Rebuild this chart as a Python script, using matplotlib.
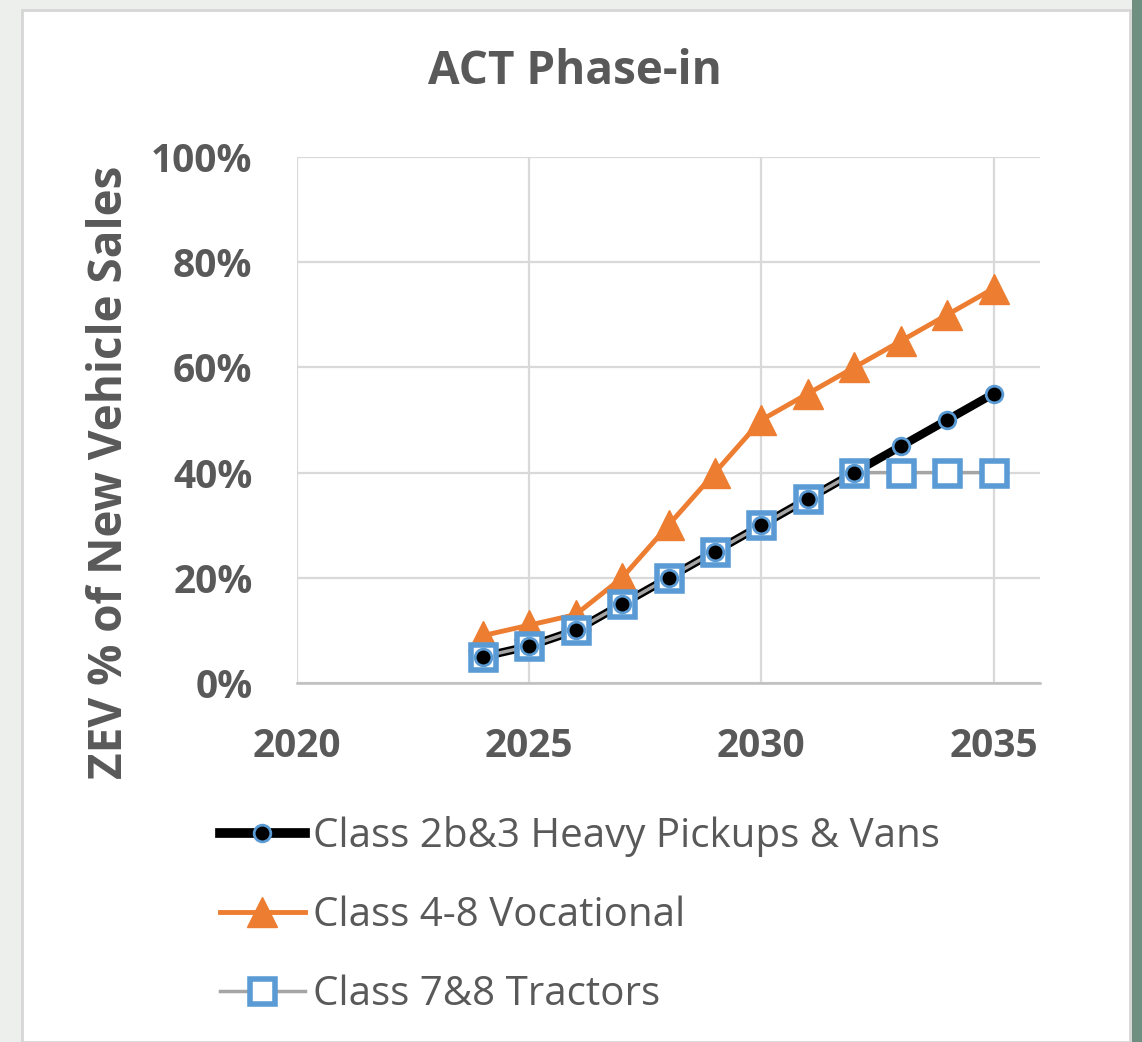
import matplotlib.pyplot as plt
from matplotlib.patches import Rectangle

years = [2024, 2025, 2026, 2027, 2028, 2029, 2030, 2031, 2032, 2033, 2034, 2035]
pickups_vans = [5, 7, 10, 15, 20, 25, 30, 35, 40, 45, 50, 55]
vocational = [9, 11, 13, 20, 30, 40, 50, 55, 60, 65, 70, 75]
tractors = [5, 7, 10, 15, 20, 25, 30, 35, 40, 40, 40, 40]

x_ticks = [2020, 2025, 2030, 2035]
y_ticks = [0, 20, 40, 60, 80, 100]
y_labels = ['0%', '20%', '40%', '60%', '80%', '100%']

txt = '#595959'
blue = '#5B9BD5'
orange = '#ED7D31'
gray = '#A5A5A5'

plt.rcParams['font.family'] = ['Open Sans', 'DejaVu Sans']

fig = plt.figure(figsize=(11.42, 10.42), dpi=100)
fig.patch.set_facecolor('#ECEFEC')
# white card + green strip on the right
fig.patches.append(Rectangle((1132/1142, 0), 10/1142, 1, transform=fig.transFigure,
                             facecolor='#6F8F80', edgecolor='none', zorder=-2))
fig.patches.append(Rectangle((22/1142, 0), 1108/1142, 1 - 10/1042, transform=fig.transFigure,
                             facecolor='white', edgecolor='#D6D6D6', lw=2, zorder=-1))

ax = fig.add_axes([297/1142, 1 - 683/1042, 743/1142, 526/1042])
ax.set_facecolor('none')

ax.plot(years, vocational, color=orange, lw=3.5, marker='^', ms=22,
        mfc=orange, mec=orange, zorder=2)
ax.plot(years, pickups_vans, color='black', lw=6, zorder=3)
ax.plot(years, tractors, color=gray, lw=2.5, zorder=4)
ax.plot(years, tractors, ls='none', marker='s', ms=18, mfc='white', mec=blue,
        mew=4, zorder=5)
ax.plot(years, pickups_vans, ls='none', marker='o', ms=12, mfc='black', mec=blue,
        mew=2, zorder=6)

ax.set_xlim(2020, 2036)
ax.set_ylim(0, 100)
ax.set_xticks(x_ticks)
ax.set_yticks(y_ticks)
ax.set_yticklabels(y_labels)
ax.grid(True, color='#D9D9D9', lw=1.6)
ax.set_axisbelow(True)
for s in ['top', 'right', 'left']:
    ax.spines[s].set_visible(False)
ax.spines['bottom'].set_color('#BFBFBF')
ax.spines['bottom'].set_linewidth(1.8)
ax.tick_params(length=0, labelsize=28, labelcolor=txt)
ax.tick_params(axis='x', pad=32)
ax.tick_params(axis='y', pad=32)
for lab in ax.get_xticklabels() + ax.get_yticklabels():
    lab.set_fontweight('bold')

fig.text(575/1142, 1 - 72/1042, 'ACT Phase-in', ha='center', va='center',
         fontsize=33, fontweight='bold', color=txt)
fig.text(110/1142, 1 - 472/1042, 'ZEV % of New Vehicle Sales', ha='center', va='center',
         rotation=90, fontsize=33, fontweight='bold', color=txt)

h1, = ax.plot([], [], color='black', lw=7, marker='o', ms=12, mfc='black', mec=blue, mew=2)
h2, = ax.plot([], [], color=orange, lw=3.5, marker='^', ms=22, mfc=orange, mec=orange)
h3, = ax.plot([], [], color=gray, lw=2.5, marker='s', ms=18, mfc='white', mec=blue, mew=4)
leg = fig.legend([h1, h2, h3],
                 ['Class 2b&3 Heavy Pickups & Vans', 'Class 4-8 Vocational', 'Class 7&8 Tractors'],
                 loc='upper left', bbox_to_anchor=(200/1142, 1 - 796/1042), frameon=False,
                 fontsize=29, handlelength=2.1, handletextpad=0.2, labelspacing=0.95,
                 borderpad=0)
for t in leg.get_texts():
    t.set_color(txt)

fig.savefig('out.png', dpi=100, facecolor=fig.get_facecolor())
